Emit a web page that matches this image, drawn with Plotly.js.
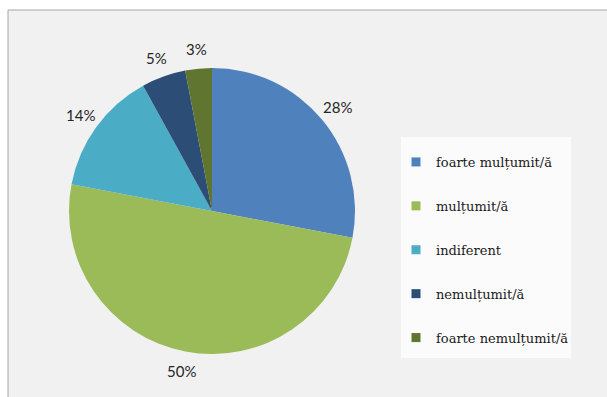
<!DOCTYPE html>
<html>
<head>
<meta charset="utf-8">
<script src="https://cdn.plot.ly/plotly-3.0.1.min.js"></script>
<style>html,body{margin:0;padding:0;background:#fff;}#chart{width:607px;height:397px;}</style>
</head>
<body>
<div id="chart"></div>
<script>
// Data
var categories = ["foarte mulțumit/ă", "mulțumit/ă", "indiferent", "nemulțumit/ă", "foarte nemulțumit/ă"];
var values = [28, 50, 14, 5, 3];
var colors = ["#4F81BD", "#9BBB59", "#4BACC6", "#2C4D75", "#5F7530"];

var W = 607, H = 397;
function px(x) { return x / W; }
function py(y) { return 1 - y / H; }

var cx = 212, cy = 211, r = 143, labelR = 163;

var pie = {
  type: "pie",
  labels: categories,
  values: values,
  sort: false,
  direction: "clockwise",
  rotation: 0,
  marker: { colors: colors, line: { width: 0 } },
  textinfo: "none",
  showlegend: false,
  hoverinfo: "label+percent",
  domain: { x: [px(cx - r), px(cx + r)], y: [py(cy + r), py(cy - r)] }
};

// Legend entries (no visible points), one per category
var legendTraces = categories.map(function (c, i) {
  return {
    type: "scatter",
    mode: "markers",
    x: [null], y: [null],
    name: c,
    legendgroup: "g" + i,
    marker: { symbol: "square", size: 9, color: colors[i] },
    hoverinfo: "skip"
  };
});

// Percentage labels placed outside each slice, derived from the values
var total = values.reduce(function (a, b) { return a + b; }, 0);
var cum = 0;
var annotations = values.map(function (v) {
  var mid = (cum + v / 2) / total * 2 * Math.PI;
  cum += v;
  return {
    xref: "paper", yref: "paper",
    x: px(cx + labelR * Math.sin(mid)),
    y: py(cy - labelR * Math.cos(mid)),
    xanchor: "center", yanchor: "middle",
    text: Math.round(v / total * 100) + "%",
    showarrow: false,
    font: { family: "Lato, sans-serif", size: 15, color: "#262626" }
  };
});

var layout = {
  width: W, height: H,
  margin: { l: 0, r: 0, t: 0, b: 0 },
  paper_bgcolor: "#ffffff",
  plot_bgcolor: "rgba(0,0,0,0)",
  xaxis: { visible: false },
  yaxis: { visible: false },
  showlegend: true,
  legend: {
    x: px(396), y: py(147), xanchor: "left", yanchor: "top",
    bgcolor: "rgba(0,0,0,0)", borderwidth: 0,
    traceorder: "grouped", tracegroupgap: 24,
    font: { family: "DejaVu Serif, serif", size: 13, color: "#1a1a1a" }
  },
  annotations: annotations,
  shapes: [
    { type: "rect", xref: "paper", yref: "paper", layer: "below",
      x0: px(8), x1: px(W + 5), y0: py(H + 5), y1: py(10),
      fillcolor: "#f1f1f1", line: { color: "#a6a6a6", width: 1 } },
    { type: "rect", xref: "paper", yref: "paper", layer: "below",
      x0: px(401), x1: px(571), y0: py(358), y1: py(137),
      fillcolor: "#fbfbfb", line: { width: 0 } }
  ]
};

Plotly.newPlot("chart", [pie].concat(legendTraces), layout, { displayModeBar: false, staticPlot: true });
</script>
</body>
</html>
